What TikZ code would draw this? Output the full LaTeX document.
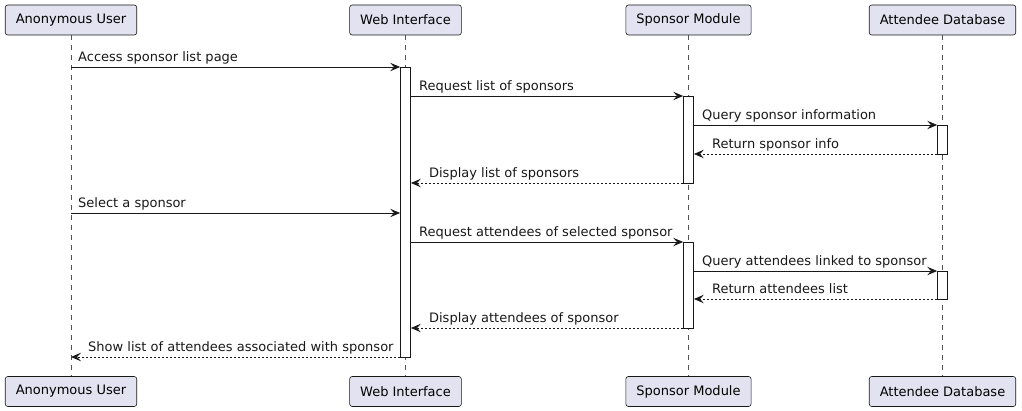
\documentclass[tikz,border=0pt]{standalone}
\usepackage{fontspec}
\setmainfont{DejaVu Sans}
\usetikzlibrary{arrows.meta}
\definecolor{partfill}{HTML}{E2E2F0}
\definecolor{ink}{HTML}{181818}
\begin{document}
\begin{tikzpicture}[x=1pt,y=-1pt,
  part/.style={draw=ink, fill=partfill, rounded corners=2.5pt, minimum height=30pt, inner xsep=10.5pt, font=\fontsize{13}{15}\selectfont, line width=0.6pt},
  life/.style={draw=ink!75, dash pattern=on 5pt off 5pt, line width=0.5pt},
  act/.style={draw=ink, fill=white, line width=0.8pt, minimum width=10pt, inner sep=0pt, anchor=north},
  msg/.style={draw=ink, -{Stealth[length=10pt,width=8.5pt,inset=4pt]}, line width=0.8pt},
  ret/.style={msg, dash pattern=on 2pt off 2pt},
  lblr/.style={anchor=base west, inner sep=0pt, font=\fontsize{13}{15}\selectfont, text=ink}]
\useasboundingbox (0,0) rectangle (1022,411);
% participants
\node[part] (au) at (71,20) {Anonymous User};
\node[part] (wi) at (405.5,20) {Web Interface};
\node[part] (sm) at (688.5,20) {Sponsor Module};
\node[part] (ad) at (942.5,20) {Attendee Database};
\node[part] (aub) at (71,391.5) {Anonymous User};
\node[part] (wib) at (405.5,391.5) {Web Interface};
\node[part] (smb) at (688.5,391.5) {Sponsor Module};
\node[part] (adb) at (942.5,391.5) {Attendee Database};
% lifelines
\draw[life] (au.south) -- (aub.north);
\draw[life] (wi.south) -- (wib.north);
\draw[life] (sm.south) -- (smb.north);
\draw[life] (ad.south) -- (adb.north);
% activations
\node[act, minimum height=290pt] (wa) at (405.5,67) {};
\node[act, minimum height=87pt] (sa1) at (688.5,96) {};
\node[act, minimum height=29pt] (da1) at (942.5,125) {};
\node[act, minimum height=86pt] (sa2) at (688.5,242) {};
\node[act, minimum height=28pt] (da2) at (942.5,271) {};
% messages
\draw[msg] (au.south |- 0,67) coordinate (m1) -- (wa.west |- 0,67);
\node[lblr] (l1) at ([xshift=7pt,yshift=5pt]m1) {Access sponsor list page};
\draw[msg] (wa.east |- 0,96) coordinate (m2) -- (sa1.west |- 0,96);
\node[lblr] (l2) at ([xshift=8pt,yshift=5pt]m2) {Request list of sponsors};
\draw[msg] (sa1.east |- 0,125) coordinate (m3) -- (da1.west |- 0,125);
\node[lblr] (l3) at ([xshift=8pt,yshift=5pt]m3) {Query sponsor information};
\draw[ret] (da1.west |- 0,154) -- (sa1.east |- 0,154) coordinate (m4);
\node[lblr] (l4) at ([xshift=18pt,yshift=5pt]m4) {Return sponsor info};
\draw[ret] (sa1.west |- 0,183) -- (wa.east |- 0,183) coordinate (m5);
\node[lblr] (l5) at ([xshift=18pt,yshift=5pt]m5) {Display list of sponsors};
\draw[msg] (au.south |- 0,213) coordinate (m6) -- (wa.west |- 0,213);
\node[lblr] (l6) at ([xshift=7pt,yshift=5pt]m6) {Select a sponsor};
\draw[msg] (wa.east |- 0,242) coordinate (m7) -- (sa2.west |- 0,242);
\node[lblr] (l7) at ([xshift=8pt,yshift=5pt]m7) {Request attendees of selected sponsor};
\draw[msg] (sa2.east |- 0,271) coordinate (m8) -- (da2.west |- 0,271);
\node[lblr] (l8) at ([xshift=8pt,yshift=5pt]m8) {Query attendees linked to sponsor};
\draw[ret] (da2.west |- 0,299) -- (sa2.east |- 0,299) coordinate (m9);
\node[lblr] (l9) at ([xshift=18pt,yshift=5pt]m9) {Return attendees list};
\draw[ret] (sa2.west |- 0,328) -- (wa.east |- 0,328) coordinate (m10);
\node[lblr] (l10) at ([xshift=18pt,yshift=5pt]m10) {Display attendees of sponsor};
\draw[ret] (wa.west |- 0,357) -- (au.south |- 0,357) coordinate (m11);
\node[lblr] (l11) at ([xshift=17pt,yshift=5pt]m11) {Show list of attendees associated with sponsor};
\end{tikzpicture}
\end{document}
